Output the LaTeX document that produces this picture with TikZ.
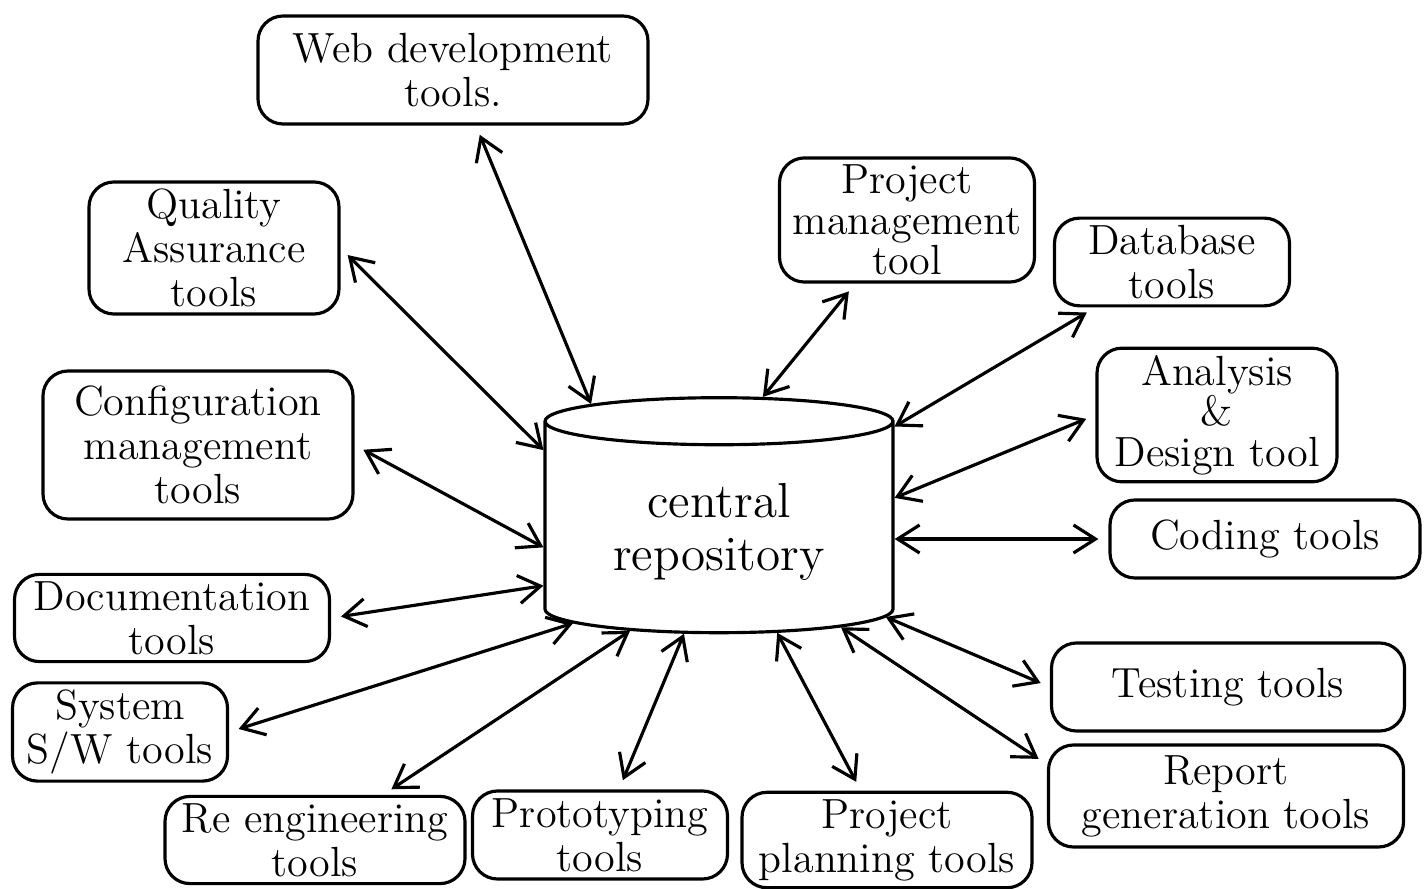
\documentclass[tikz,border=0pt]{standalone}
\usepackage{tikz}
\usetikzlibrary{arrows.meta,shapes.geometric}

\begin{document}
\begin{tikzpicture}[x=0.1mm,y=-0.1mm,line width=0.9pt,
  tool/.style={draw,rounded corners=2.5mm,align=center,inner sep=2pt,
    font=\fontsize{12}{12.5}\selectfont},
  tight/.style={font=\fontsize{12}{11.5}\selectfont},
  link/.style={{Straight Barb[length=2.2mm,width=2.8mm]}-{Straight Barb[length=2.2mm,width=2.8mm]},
    shorten <=1mm}]
\useasboundingbox (0,0) rectangle (1428,889);
% the repository in the middle
\node [draw,cylinder,shape border rotate=90,aspect=0.2,minimum width=34.8mm,
  minimum height=23.5mm,align=center,font=\fontsize{14}{15}\selectfont] (repo) at (719,532)
  {central\\repository};
% tools, left side
\node [tool,minimum width=39mm,minimum height=10.8mm] (web) at (453,70) {Web development\\tools.};
\node [tool,minimum width=25mm,minimum height=12.2mm] (qa) at (214,248) {Quality\\Assurance\\tools};
\node [tool,minimum width=31mm,minimum height=14.8mm] (cfg) at (198,445) {Configuration\\management\\tools};
\node [tool,minimum width=31.5mm,minimum height=7.2mm] (doc) at (172,618) {Documentation\\tools};
\node [tool,minimum width=21.5mm,minimum height=8mm] (sys) at (120,732) {System\\S/W tools};
\node [tool,minimum width=30mm,minimum height=7.8mm] (reeng) at (315,840) {Re engineering\\tools};
\node [tool,minimum width=25.5mm,minimum height=8.8mm] (proto) at (600,835) {Prototyping\\tools};
\node [tool,minimum width=29mm,minimum height=8.6mm] (plan) at (887,840) {Project\\planning tools};
% tools, right side
\node [tool,minimum width=35.5mm,minimum height=10.2mm] (report) at (1226,796) {Report\\generation tools};
\node [tool,minimum width=35.3mm,minimum height=8.8mm] (test) at (1228,687) {Testing tools};
\node [tool,minimum width=31mm,minimum height=7.8mm] (coding) at (1265,539) {Coding tools};
\node [tool,tight,minimum width=24mm,minimum height=10.6mm] (ana) at (1217,415) {Analysis\\\&\\Design tool};
\node [tool,minimum width=23.5mm,minimum height=8.7mm] (db) at (1172,262) {Database\\tools};
\node [tool,tight,minimum width=25.5mm,minimum height=10.4mm] (pm) at (907,220) {Project\\management\\tool};
% connectors
\foreach \src/\dst in {web/repo.135,qa.east/repo.155,cfg.east/repo.185,doc.east/repo.197,
  sys.east/repo.212,reeng/repo.228,proto/repo.251,plan/repo.300,report.170/repo.322,
  test.west/repo.333,ana.west/repo.11,db/repo.31,pm/repo.72}
  \draw [link] (\src) -- (\dst);
\draw [link] (coding.west) -- (coding.west -| repo.east);
\end{tikzpicture}
\end{document}
